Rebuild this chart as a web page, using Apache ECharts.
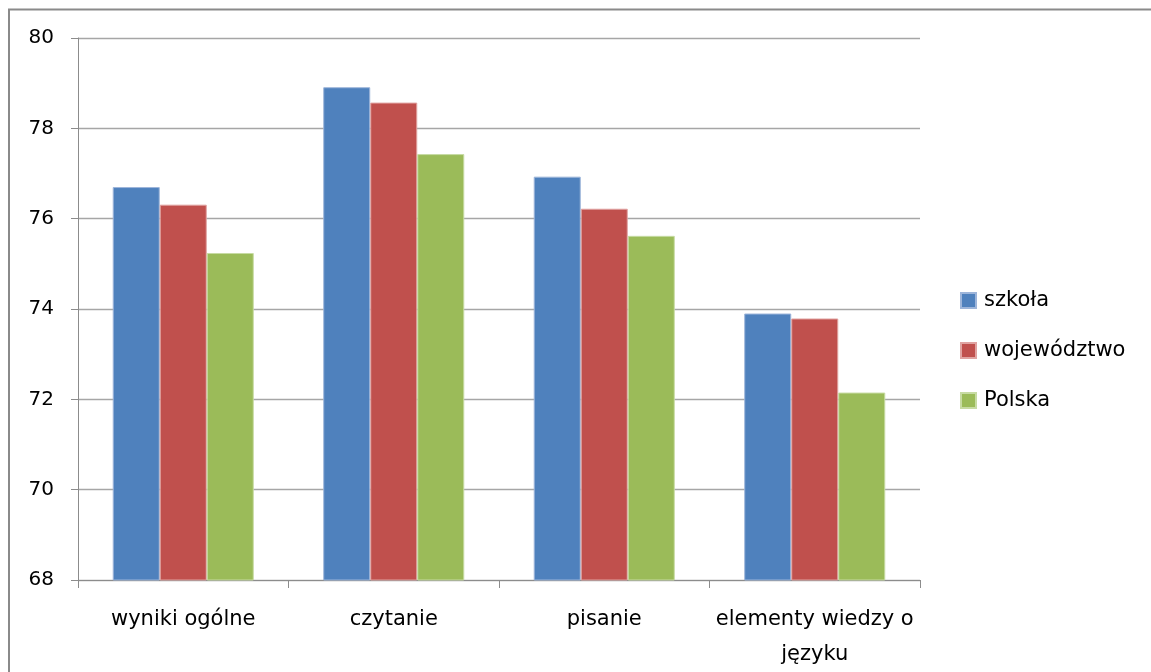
<!DOCTYPE html>
<html>
<head>
<meta charset="utf-8">
<script src="https://cdn.jsdelivr.net/npm/echarts@6/dist/echarts.min.js"></script>
<style>
html,body{margin:0;padding:0;background:#fff;}
#chart{width:1151px;height:672px;}
</style>
</head>
<body>
<div id="chart"></div>
<script>
var categories = ['wyniki ogólne', 'czytanie', 'pisanie', 'elementy wiedzy o\njęzyku'];
var seriesNames = ['szkoła', 'województwo', 'Polska'];
var szkola = [76.70, 78.91, 76.93, 73.90];
var wojewodztwo = [76.31, 78.57, 76.22, 73.79];
var polska = [75.24, 77.43, 75.62, 72.15];
var yTicks = {min: 68, max: 80, interval: 2};

var FONT = 'DejaVu Sans';
var chart = echarts.init(document.getElementById('chart'));
var colors = ['#4F81BD', '#C0504D', '#9BBB59'];
var borders = ['#9DB5DA', '#E0A3A1', '#C7DBA3'];
var values = [szkola, wojewodztwo, polska];

chart.setOption({
  animation: false,
  backgroundColor: '#ffffff',
  textStyle: {fontFamily: FONT},
  graphic: [{
    type: 'polyline',
    shape: {points: [[9, 680], [9, 9.5], [1160, 9.5]]},
    style: {stroke: '#8a8a8a', lineWidth: 2, fill: null}
  }],
  grid: {left: 78, right: 231, top: 38, bottom: 90},
  legend: {
    orient: 'vertical',
    left: 955,
    top: 285,
    itemWidth: 15,
    itemHeight: 15,
    itemGap: 29,
    icon: 'rect',
    textStyle: {fontFamily: FONT, fontSize: 21, color: '#000', padding: [0, 0, 0, 3]},
    data: seriesNames
  },
  xAxis: {
    type: 'category',
    data: categories,
    axisLine: {lineStyle: {color: '#8c8c8c', width: 1}},
    axisTick: {show: true, interval: 0, length: 8, lineStyle: {color: '#8c8c8c'}},
    axisLabel: {interval: 0, margin: 22, fontFamily: FONT, fontSize: 21, color: '#000', lineHeight: 35}
  },
  yAxis: {
    type: 'value',
    min: yTicks.min,
    max: yTicks.max,
    interval: yTicks.interval,
    axisLine: {show: true, lineStyle: {color: '#8c8c8c', width: 1}},
    axisTick: {show: true, inside: false, length: 7, lineStyle: {color: '#8c8c8c'}},
    axisLabel: {margin: 24, fontFamily: FONT, fontSize: 20, color: '#000'},
    splitLine: {lineStyle: {color: '#a6a6a6', width: 1.3}}
  },
  series: seriesNames.map(function (n, i) {
    return {
      name: n,
      type: 'bar',
      data: values[i],
      barGap: '0%',
      barCategoryGap: '33%',
      itemStyle: {color: colors[i], borderColor: borders[i], borderWidth: 1}
    };
  })
});
</script>
</body>
</html>
